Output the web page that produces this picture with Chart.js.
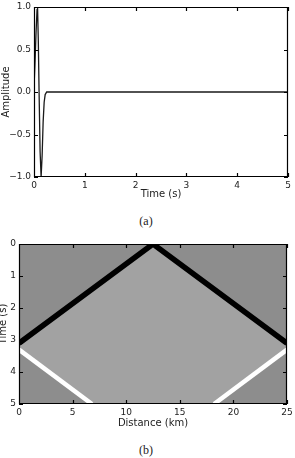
<!DOCTYPE html>
<html>
<head>
<meta charset="utf-8">
<script src="https://cdn.jsdelivr.net/npm/chart.js@4.4.1/dist/chart.umd.min.js"></script>
<style>
  body { margin:0; background:#fff; width:295px; height:458px; overflow:hidden; position:relative; }
  .box { position:absolute; left:0; width:295px; }
  #boxA { top:0; height:200px; }
  #boxB { top:236px; height:195px; }
  .cap { position:absolute; left:0; width:292px; text-align:center; font:12px 'Liberation Serif', serif; color:#222; }
</style>
</head>
<body>
<div class="box" id="boxA"><canvas id="wave"></canvas></div>
<div class="cap" style="top:214px">(a)</div>
<div class="box" id="boxB"><canvas id="shot"></canvas></div>
<div class="cap" style="top:443px">(b)</div>
<script>
/* (a) source wavelet */
const waveTime = [0, 0.02, 0.04, 0.06, 0.07, 0.085, 0.1, 0.12, 0.14, 0.16, 0.18, 0.2, 0.22, 0.25, 5];
const waveAmp  = [0.05, 0.35, 0.7, 0.97, 1.0, 0.6, 0.0, -0.7, -1.0, -0.75, -0.35, -0.12, -0.03, 0, 0];
const timeTicks = [0, 1, 2, 3, 4, 5];
const ampTicks = [-1, -0.5, 0, 0.5, 1];

/* (b) shot gather */
const lightZoneX = [0, 12.5, 25, 25, 18.2, 6.8, 0];
const lightZoneT = [3.1, 0, 3.1, 3.3, 5, 5, 3.3];
const directX = [0, 12.5, 25];
const directT = [3.1, 0, 3.1];
const reflLeftX = [0, 6.8];
const reflLeftT = [3.3, 5];
const reflRightX = [18.2, 25];
const reflRightT = [5, 3.3];
const distTicks = [0, 5, 10, 15, 20, 25];
const gatherTicks = [0, 1, 2, 3, 4, 5];

const pts = (xs, ys) => xs.map((x, i) => ({ x, y: ys[i] }));
const font = { family: 'DejaVu Sans', size: 9 };
const titleFont = { family: 'DejaVu Sans', size: 10 };
const tc = '#222222', fc = 'rgb(0,0,0)';

// background under the data, then box + inward ticks on top
function makeFrame(bg, xTicks, yTicks) {
  return {
    id: 'frame',
    beforeDatasetsDraw(chart) {
      if (!bg) return;
      const ctx = chart.ctx, a = chart.chartArea;
      ctx.save();
      ctx.fillStyle = bg;
      ctx.fillRect(a.left, a.top, a.right - a.left, a.bottom - a.top);
      ctx.restore();
    },
    afterDraw(chart) {
      const ctx = chart.ctx, a = chart.chartArea, sx = chart.scales.x, sy = chart.scales.y;
      ctx.save();
      ctx.globalAlpha = 1;
      ctx.globalCompositeOperation = 'source-over';
      ctx.setLineDash([]);
      ctx.strokeStyle = fc;
      ctx.lineWidth = 1.2;
      ctx.beginPath();
      ctx.rect(a.left + 0.5, a.top + 0.5, a.right - a.left - 1, a.bottom - a.top - 1);
      xTicks.forEach(v => {
        const px = Math.round(sx.getPixelForValue(v)) + 0.5;
        ctx.moveTo(px, a.bottom); ctx.lineTo(px, a.bottom - 4);
        ctx.moveTo(px, a.top); ctx.lineTo(px, a.top + 4);
      });
      yTicks.forEach(v => {
        const py = Math.round(sy.getPixelForValue(v)) + 0.5;
        ctx.moveTo(a.left, py); ctx.lineTo(a.left + 4, py);
        ctx.moveTo(a.right, py); ctx.lineTo(a.right - 4, py);
      });
      ctx.stroke();
      ctx.restore();
    }
  };
}

const fixTicks = list => scale => { scale.ticks = list.map(v => ({ value: v })); };
const noGrid = { display: false, drawTicks: false };
const fitX = h => s => { s.height = h; s.paddingLeft = 0; s.paddingRight = 0; };
const fitY = w => s => { s.width = w; s.paddingTop = 0; s.paddingBottom = 0; };

new Chart(document.getElementById('wave'), {
  type: 'scatter',
  data: { datasets: [{ data: pts(waveTime, waveAmp), showLine: true, borderColor: '#1a1a1a', borderWidth: 1.3,
    pointRadius: 0, tension: 0, clip: 0 }] },
  options: {
    responsive: true, maintainAspectRatio: false, animation: false,
    layout: { padding: { top: 7, right: 7, left: 0, bottom: 0 } },
    plugins: { legend: { display: false }, tooltip: { enabled: false } },
    scales: {
      x: { type: 'linear', min: 0, max: 5, afterBuildTicks: fixTicks(timeTicks), afterFit: fitX(23),
        grid: noGrid, border: { display: false },
        ticks: { color: tc, font, padding: 3, maxRotation: 0 },
        title: { display: true, text: 'Time (s)', color: tc, font: titleFont, padding: 0 } },
      y: { type: 'linear', min: -1, max: 1, afterBuildTicks: fixTicks(ampTicks), afterFit: fitY(34),
        grid: noGrid, border: { display: false },
        ticks: { color: tc, font, padding: 3, callback: v => (v < 0 ? '\u2212' : '') + Math.abs(v).toFixed(1) },
        title: { display: true, text: 'Amplitude', color: tc, font: titleFont, padding: 0 } }
    }
  },
  plugins: [makeFrame(null, timeTicks, ampTicks)]
});

new Chart(document.getElementById('shot'), {
  type: 'scatter',
  data: { datasets: [
    { data: pts(lightZoneX, lightZoneT), order: 5, showLine: true, fill: 'shape', backgroundColor: '#a2a2a2',
      borderWidth: 0, pointRadius: 0, tension: 0, clip: 0 },
    { data: pts(reflLeftX, reflLeftT), order: 1, showLine: true, borderColor: '#ffffff', borderWidth: 4.5,
      pointRadius: 0, tension: 0, clip: 0, borderCapStyle: 'butt' },
    { data: pts(reflRightX, reflRightT), order: 1, showLine: true, borderColor: '#ffffff', borderWidth: 4.5,
      pointRadius: 0, tension: 0, clip: 0, borderCapStyle: 'butt' },
    { data: pts(directX, directT), order: 0, showLine: true, borderColor: '#000000', borderWidth: 5.5,
      pointRadius: 0, tension: 0, clip: 0, borderJoinStyle: 'miter', borderCapStyle: 'butt' }
  ] },
  options: {
    responsive: true, maintainAspectRatio: false, animation: false,
    layout: { padding: { top: 8, right: 8, left: 0, bottom: 0 } },
    plugins: { legend: { display: false }, tooltip: { enabled: false } },
    scales: {
      x: { type: 'linear', min: 0, max: 25, afterBuildTicks: fixTicks(distTicks), afterFit: fitX(27),
        grid: noGrid, border: { display: false },
        ticks: { color: tc, font, padding: 3, maxRotation: 0 },
        title: { display: true, text: 'Distance (km)', color: tc, font: titleFont, padding: { top: 0, bottom: 1.5 } } },
      y: { type: 'linear', reverse: true, min: 0, max: 5, afterBuildTicks: fixTicks(gatherTicks), afterFit: fitY(19),
        grid: noGrid, border: { display: false },
        ticks: { color: tc, font, padding: 3 },
        title: { display: true, text: 'Time (s)', color: tc, font: titleFont, padding: { top: -2.5, bottom: 0 } } }
    }
  },
  plugins: [makeFrame('#8d8d8d', distTicks, gatherTicks)]
});
</script>
</body>
</html>
